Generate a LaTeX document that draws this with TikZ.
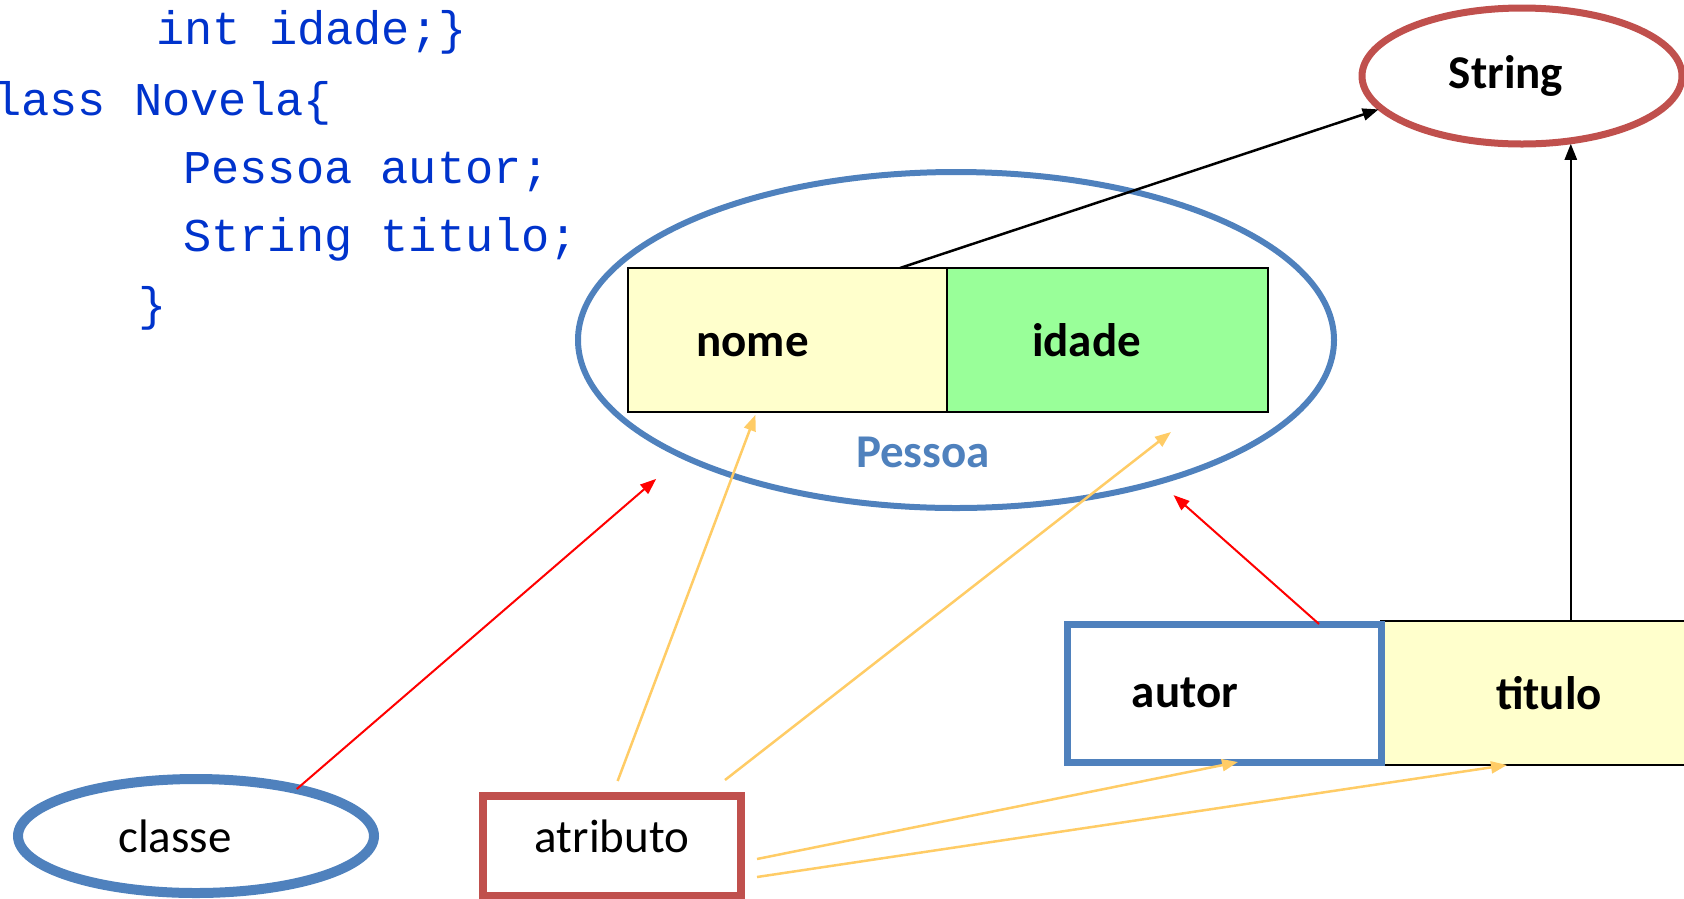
\documentclass[tikz,border=0pt]{standalone}
\usepackage{fontspec}
\setmainfont{Carlito}
\newfontfamily\codefont{Liberation Mono}
\usetikzlibrary{shapes.geometric,positioning,arrows.meta}
\definecolor{officeblue}{RGB}{79,129,189}
\definecolor{officered}{RGB}{192,80,77}
\definecolor{codeblue}{RGB}{0,51,204}
\definecolor{paleyellow}{RGB}{255,255,204}
\definecolor{palegreen}{RGB}{153,255,153}
\definecolor{lineorange}{RGB}{255,204,102}

\begin{document}
\begin{tikzpicture}[x=1pt,y=-1pt]
\useasboundingbox (0,0) rectangle (1684,898);

% codigo java
\begin{scope}[every node/.style={anchor=base west,inner sep=0,text=codeblue,font=\codefont\fontsize{47}{56}\selectfont}]
    \node (l1) at (156,44) {int idade;\}};
    \node (l2) at (-35,115) {class Novela\{};
    \node (l3) at (183,183) {Pessoa autor;};
    \node (l4) at (183,251) {String titulo;};
    \node (l5) at (138,320) {\}};
\end{scope}

\begin{scope}[every node/.style={inner sep=0,outer sep=0,font=\bfseries\fontsize{47}{56}\selectfont}]
    \node (pessoa)[ellipse,draw=officeblue,line width=6pt,minimum width=756pt,minimum height=336pt] at (956,340) {};
    \node (pessoaLbl)[text=officeblue] at (923,452) {Pessoa};
    \node (nome)[draw,fill=paleyellow,line width=2pt,minimum width=319pt,minimum height=144pt,text height=33pt,text depth=0pt] at (787.5,340) {nome\hspace*{70pt}};
    \node (idade)[draw,fill=palegreen,line width=2pt,minimum width=321pt,minimum height=144pt,text height=33pt,text depth=0pt,right=0pt of nome] {idade\hspace*{42pt}};
    \node (string)[ellipse,draw=officered,line width=7pt,minimum width=320pt,minimum height=136pt] at (1522,76) {String\hspace*{32pt}};
    \node (titulo)[draw,fill=paleyellow,line width=2pt,minimum width=336pt,minimum height=144pt] at (1549,693) {titulo};
    \node (autor)[draw=officeblue,line width=7pt,minimum width=314pt,minimum height=138pt,left=0pt of titulo] {autor\hspace*{78pt}};
    \node (classe)[ellipse,draw=officeblue,line width=10pt,minimum width=356pt,minimum height=114pt,font=\fontsize{47}{56}\selectfont] at (196,836) {classe\hspace*{42pt}};
    \node (atributo)[draw=officered,line width=8pt,minimum width=258pt,minimum height=100pt,text depth=20pt,font=\fontsize{47}{56}\selectfont] at (612,846) {atributo};
\end{scope}

\begin{scope}[every edge/.style={draw,line width=2.5pt,-{Triangle[length=16pt,width=12pt]}}]
    \path ([xshift=-47pt]nome.north east) edge[shorten >=3pt] (string.193);
    \path (string.307 |- titulo.north) edge[shorten >=3pt] (string.307);
    \path (classe.25) edge[red,line width=2pt,shorten >=35pt] (pessoa.203);
    \path ([xshift=-62pt]autor.north east) edge[red,line width=2pt,shorten >=20pt] (pessoa.325);
    \path (atributo.north) edge[lineorange,shorten <=16pt,shorten >=3pt] ([xshift=-31pt]nome.south);
    \path ([xshift=-16pt,yshift=16pt]atributo.north east) edge[lineorange] ([xshift=-97pt,yshift=-20pt]idade.south east);
    \path ([xshift=16pt,yshift=-13pt]atributo.east) edge[lineorange] ([xshift=14pt]autor.south);
    \path ([xshift=16pt,yshift=-31pt]atributo.east) edge[lineorange] ([xshift=-42pt]titulo.south);
\end{scope}
\end{tikzpicture}
\end{document}
